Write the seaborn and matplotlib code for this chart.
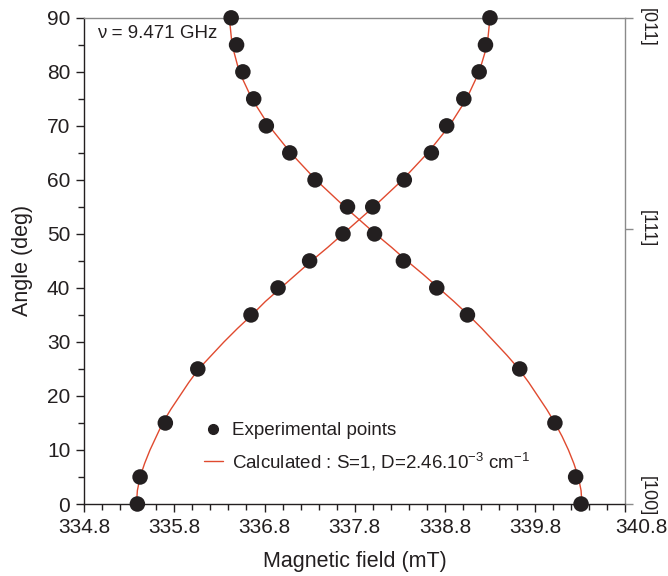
import numpy as np
import pandas as pd
import matplotlib
matplotlib.use("Agg")
import matplotlib.pyplot as plt
import matplotlib.transforms as mtrans
from matplotlib.ticker import FixedLocator, MultipleLocator
from matplotlib.lines import Line2D
import seaborn as sns

# experimental points (angle in deg, field in mT)
angles = [0, 5, 15, 25, 35, 40, 45, 50, 55, 60, 65, 70, 75, 80, 85, 90]
field_a = [335.39, 335.42, 335.70, 336.06, 336.65, 336.95, 337.30, 337.67,
           338.00, 338.35, 338.65, 338.82, 339.01, 339.18, 339.25, 339.30]
field_b = [340.31, 340.25, 340.02, 339.63, 339.05, 338.71, 338.34, 338.02,
           337.72, 337.36, 337.08, 336.82, 336.68, 336.56, 336.49, 336.43]

# calculated curve
calc_angles = [0, 2.5, 5, 7.5, 10, 12.5, 15, 17.5, 20, 22.5, 25, 27.5, 30,
               32.5, 35, 37.5, 40, 42.5, 45, 47.5, 50, 55, 60, 65, 70, 75,
               80, 85, 90]
calc_a = [335.38, 335.39, 335.42, 335.47, 335.53, 335.60, 335.67, 335.76,
          335.86, 335.96, 336.07, 336.21, 336.35, 336.50, 336.66, 336.81,
          336.98, 337.15, 337.32, 337.50, 337.67, 338.01, 338.33, 338.61,
          338.85, 339.04, 339.18, 339.27, 339.30]
calc_b = [340.32, 340.31, 340.28, 340.23, 340.17, 340.10, 340.02, 339.93,
          339.83, 339.73, 339.62, 339.49, 339.35, 339.21, 339.06, 338.90,
          338.73, 338.56, 338.38, 338.21, 338.03, 337.69, 337.37, 337.09,
          336.85, 336.66, 336.52, 336.44, 336.41]

x_ticks = [334.8, 335.8, 336.8, 337.8, 338.8, 339.8, 340.8]
axis_dirs = ["[100]", "[111]", "[011]"]
axis_dir_angles = [0, 51, 90]

pts = pd.DataFrame({"angle": angles * 2, "field": field_a + field_b})
curve_a = pd.DataFrame({"angle": calc_angles, "field": calc_a})
curve_b = pd.DataFrame({"angle": calc_angles, "field": calc_b})

sns.set_style("ticks")
plt.rcParams["font.family"] = ["Liberation Sans", "DejaVu Sans"]
plt.rcParams["mathtext.fontset"] = "custom"
plt.rcParams["mathtext.rm"] = "Liberation Sans"
plt.rcParams["mathtext.it"] = "Liberation Sans"

red = "#e04a2f"
dot = "#231f20"
txt = "#231f20"
grey = "#8a8a8a"

fig = plt.figure(figsize=(6.68, 5.76), dpi=100)
ax = fig.add_axes([0.126, 0.125, 0.810, 0.844])

sns.lineplot(data=curve_a, x="field", y="angle", sort=False, estimator=None,
             color=red, lw=1.0, ax=ax, zorder=2)
sns.lineplot(data=curve_b, x="field", y="angle", sort=False, estimator=None,
             color=red, lw=1.0, ax=ax, zorder=2)
sns.scatterplot(data=pts, x="field", y="angle", color=dot, s=125,
                edgecolor="none", ax=ax, zorder=3, clip_on=False)

ax.set_xlim(334.8, 340.8)
ax.set_ylim(0, 90)
ax.xaxis.set_major_locator(FixedLocator(x_ticks))
ax.xaxis.set_minor_locator(FixedLocator(np.arange(334.8, 340.81, 0.2)))
ax.set_xticklabels([f"{v:.1f}" for v in x_ticks])
ax.yaxis.set_major_locator(MultipleLocator(10))
ax.yaxis.set_minor_locator(MultipleLocator(5))
ax.tick_params(which="major", direction="out", length=6, width=1,
               labelsize=15, colors=txt, pad=4)
ax.tick_params(which="minor", direction="out", length=4, width=1, colors=txt)

ax.set_xlabel("Magnetic field (mT)", fontsize=15.5, color=txt, labelpad=10)
ax.set_ylabel("Angle (deg)", fontsize=15.5, color=txt, labelpad=10)

for side in ["left", "bottom"]:
    ax.spines[side].set_color(txt)
    ax.spines[side].set_linewidth(1.0)
for side in ["top", "right"]:
    ax.spines[side].set_visible(True)
    ax.spines[side].set_color(grey)
    ax.spines[side].set_linewidth(1.0)

# crystal directions on the right axis
ax2 = ax.twinx()
ax2.set_ylim(0, 90)
ax2.set_yticks(axis_dir_angles)
ax2.set_yticklabels(axis_dirs, rotation=-90, va="center", fontsize=13, color=txt)
ax2.tick_params(direction="out", length=6, width=1, colors=grey,
                labelcolor=txt, pad=4)
for s in ax2.spines.values():
    s.set_visible(False)

fig.canvas.draw()
rlabels = ax2.get_yticklabels()
rlabels[0].set_transform(rlabels[0].get_transform()
                         + mtrans.ScaledTranslation(0, 6 / 72, fig.dpi_scale_trans))
rlabels[2].set_transform(rlabels[2].get_transform()
                         + mtrans.ScaledTranslation(0, -7 / 72, fig.dpi_scale_trans))
xlabels = ax.get_xticklabels()
xlabels[-1].set_transform(xlabels[-1].get_transform()
                          + mtrans.ScaledTranslation(12 / 72, 0, fig.dpi_scale_trans))

ax.text(0.024, 0.967, "\u03bd = 9.471 GHz", transform=ax.transAxes,
        fontsize=13.5, color=txt, va="center", ha="left")

handles = [
    Line2D([], [], marker="o", color=dot, ls="none", markersize=7),
    Line2D([], [], color=red, lw=1.0),
]
labels = ["Experimental points",
          "Calculated : S=1, D=2.46.10$^{-3}$ cm$^{-1}$"]
ax.legend(handles, labels, loc="lower left", bbox_to_anchor=(0.19, 0.03),
          frameon=False, fontsize=13.5, handlelength=1.0, handletextpad=0.5,
          labelspacing=0.6, labelcolor=txt)

plt.savefig("out.png", dpi=100)
